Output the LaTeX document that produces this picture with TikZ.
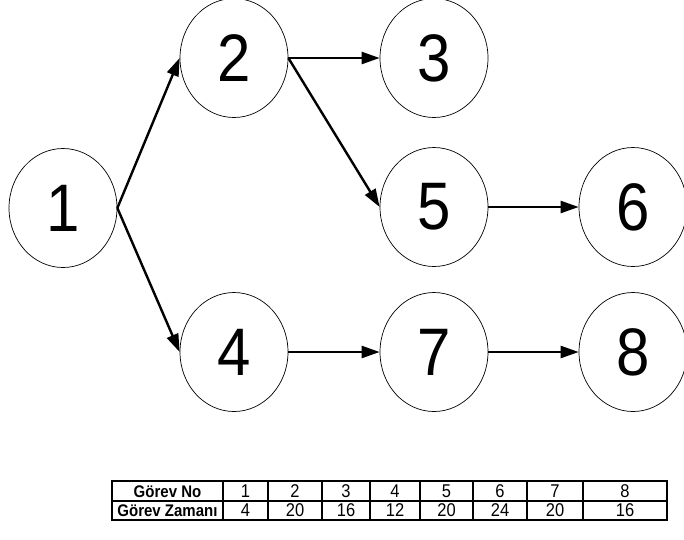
\documentclass[tikz,border=0pt]{standalone}
\usepackage{fontspec}
\usepackage{graphicx}
\setmainfont{Liberation Sans}
\usetikzlibrary{shapes.geometric,arrows.meta}
\newcommand{\tallnum}[1]{\scalebox{1}[1.12]{#1}}
\newcommand{\talltxt}[1]{\scalebox{1}[1.12]{#1}}
\tikzset{
  evt/.style={draw, ellipse, line width=0.7pt, minimum width=108pt, minimum height=119pt, inner sep=0pt, font=\fontsize{60}{60}\selectfont},
  arr/.style={line width=2.4pt, -{Triangle[length=18pt,width=12pt]}},
  cellline/.style={line width=2pt},
  celltext/.style={font=\fontsize{16.5}{16}\selectfont, inner sep=0pt, anchor=base},
  headtext/.style={font=\fontsize{15}{15}\selectfont\bfseries, inner sep=0pt, anchor=base}
}
\begin{document}
\begin{tikzpicture}[x=1pt,y=-1pt]
\useasboundingbox (0,0) rectangle (684,539);
\node[evt] (n1) at (63,208) {\tallnum{1}};
\node[evt] (n2) at (234,58) {\tallnum{2}};
\node[evt] (n3) at (434,58) {\tallnum{3}};
\node[evt] (n5) at (434,207) {\tallnum{5}};
\node[evt] (n6) at (633,207) {\tallnum{6}};
\node[evt] (n4) at (234,352) {\tallnum{4}};
\node[evt] (n7) at (434,352) {\tallnum{7}};
\node[evt] (n8) at (633,352) {\tallnum{8}};
\draw[arr] (n1.east) -- (n2.west);
\draw[arr] (n1.east) -- (n4.west);
\draw[arr] (n2.east) -- (n3.west);
\draw[arr] (n2.east) -- (n5.west);
\draw[arr] (n5.east) -- (n6.west);
\draw[arr] (n4.east) -- (n7.west);
\draw[arr] (n7.east) -- (n8.west);
% table
\coordinate (tl) at (112,481);
\coordinate (br) at (667,520);
\draw[cellline] (tl) rectangle (br);
\draw[cellline] (112,500.5) -- (667,500.5);
\foreach \x in {223,268,322,370,420,473,527,583}
  \draw[cellline] (\x,481) -- (\x,520);
\node[headtext] (h1) at (167.5,497) {\talltxt{Görev No}};
\node[headtext] (h2) at (167.5,516.5) {\talltxt{Görev Zamanı}};
\foreach \c/\a/\b in {245.5/1/4, 295/2/20, 346/3/16, 395/4/12, 446.5/5/20, 500/6/24, 555/7/20, 625/8/16}{
  \node[celltext] at (\c,497) {\talltxt{\a}};
  \node[celltext] at (\c,516.5) {\talltxt{\b}};
}
\end{tikzpicture}
\end{document}
